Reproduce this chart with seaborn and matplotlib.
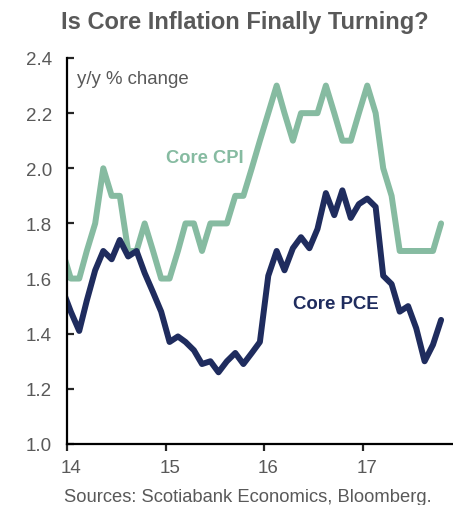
import pandas as pd
import matplotlib
matplotlib.use("Agg")
import matplotlib.pyplot as plt
import matplotlib.dates as mdates
import matplotlib.transforms as mtransforms
import seaborn as sns

# monthly y/y % change, Dec 2013 .. Oct 2017 (plotted mid-month)
months = pd.date_range("2013-12-01", periods=47, freq="MS") + pd.Timedelta(days=14)

core_cpi = [1.7,
            1.6, 1.6, 1.7, 1.8, 2.0, 1.9, 1.9, 1.7, 1.7, 1.8, 1.7, 1.6,
            1.6, 1.7, 1.8, 1.8, 1.7, 1.8, 1.8, 1.8, 1.9, 1.9, 2.0, 2.1,
            2.2, 2.3, 2.2, 2.1, 2.2, 2.2, 2.2, 2.3, 2.2, 2.1, 2.1, 2.2,
            2.3, 2.2, 2.0, 1.9, 1.7, 1.7, 1.7, 1.7, 1.7, 1.8]

core_pce = [1.56,
            1.48, 1.41, 1.52, 1.63, 1.70, 1.67, 1.74, 1.68, 1.70, 1.62, 1.55, 1.48,
            1.37, 1.39, 1.37, 1.34, 1.29, 1.30, 1.26, 1.30, 1.33, 1.29, 1.33, 1.37,
            1.61, 1.70, 1.63, 1.71, 1.75, 1.71, 1.78, 1.91, 1.83, 1.92, 1.82, 1.87,
            1.89, 1.86, 1.61, 1.58, 1.48, 1.50, 1.42, 1.30, 1.36, 1.45]

series_names = ["Core CPI", "Core PCE"]
colors = {"Core CPI": "#86BBA1", "Core PCE": "#1F2C5E"}
grey = "#595959"

df = pd.DataFrame({"date": list(months) * 2,
                   "value": core_cpi + core_pce,
                   "series": [series_names[0]] * len(core_cpi) + [series_names[1]] * len(core_pce)})

sns.set_style("ticks")
plt.rcParams["font.family"] = ["Liberation Sans", "DejaVu Sans"]

fig = plt.figure(figsize=(4.53, 5.06), dpi=100)
ax = fig.add_axes([0.148, 0.1206, 0.852, 0.7628])

sns.lineplot(data=df, x="date", y="value", hue="series", palette=colors,
             linewidth=4.3, legend=False, ax=ax)

ax.set_xlim(pd.Timestamp("2014-01-01"), pd.Timestamp("2017-11-28"))
ax.set_ylim(1.0, 2.4)
ax.set_yticks([1.0, 1.2, 1.4, 1.6, 1.8, 2.0, 2.2, 2.4])
ax.yaxis.set_major_formatter(matplotlib.ticker.FormatStrFormatter("%.1f"))
ax.xaxis.set_major_locator(mdates.YearLocator())
ax.xaxis.set_major_formatter(mdates.DateFormatter("%y"))
ax.set_xlabel("")
ax.set_ylabel("")

for s in ["top", "right"]:
    ax.spines[s].set_visible(False)
for s in ["left", "bottom"]:
    ax.spines[s].set_linewidth(1.6)
    ax.spines[s].set_color("black")

ax.tick_params(axis="y", direction="in", length=5, width=1.6, labelsize=13.5,
               labelcolor=grey, pad=11)
ax.tick_params(axis="x", direction="out", length=5, width=1.6, labelsize=13.5,
               labelcolor=grey, pad=6)
shift = mtransforms.ScaledTranslation(4 / 100, 0, fig.dpi_scale_trans)
for lab in ax.get_xticklabels():
    lab.set_transform(lab.get_transform() + shift)

ax.text(0.027, 0.97, "y/y % change", transform=ax.transAxes, fontsize=13.4,
        color=grey, va="top", ha="left")
ax.text(pd.Timestamp("2015-01-01"), 2.04, "Core CPI", fontsize=13.2, fontweight="bold",
        color=colors["Core CPI"], va="center", ha="left")
ax.text(pd.Timestamp("2016-04-15"), 1.51, "Core PCE", fontsize=13.4, fontweight="bold",
        color=colors["Core PCE"], va="center", ha="left")

fig.text(0.540, 0.955, "Is Core Inflation Finally Turning?", fontsize=17,
         fontweight="bold", color=grey, ha="center", va="center")
fig.text(0.548, 0.016, "Sources: Scotiabank Economics, Bloomberg.", fontsize=13.2,
         color=grey, ha="center", va="center")

fig.savefig("out.png", dpi=100)
